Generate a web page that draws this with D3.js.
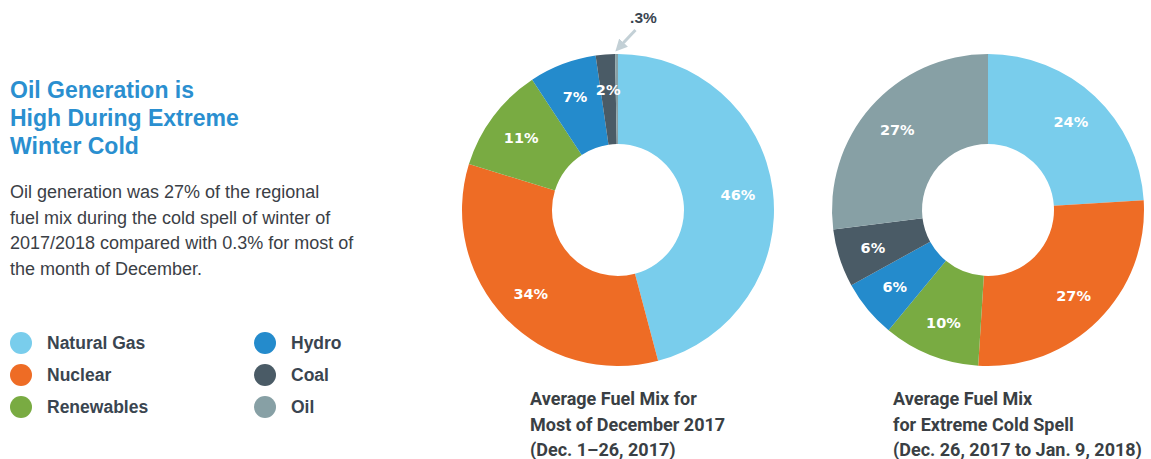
<!DOCTYPE html>
<html><head><meta charset="utf-8">
<script src="https://cdn.jsdelivr.net/npm/d3@7"></script>
<style>
body{margin:0;background:#fff;}
svg{display:block;}
</style></head>
<body>
<svg id="chart" width="1151" height="459"></svg>
<script>
const categories = ["Natural Gas","Nuclear","Renewables","Hydro","Coal","Oil"];
const colors = ["#79cdec","#ee6c25","#79ab42","#248bcc","#4a5b66","#87a0a5"];
const decValues = [46, 34, 11, 7, 2, 0.3];
const decLabels = ["46%","34%","11%","7%","2%",".3%"];
const coldValues = [24, 27, 10, 6, 6, 27];
const coldLabels = ["24%","27%","10%","6%","6%","27%"];
const titleLines = ["Oil Generation is","High During Extreme","Winter Cold"];
const bodyLines = ["Oil generation was 27% of the regional","fuel mix during the cold spell of winter of","2017/2018 compared with 0.3% for most of","the month of December."];
const decTitle = ["Average Fuel Mix for","Most of December 2017","(Dec. 1\u201326, 2017)"];
const coldTitle = ["Average Fuel Mix","for Extreme Cold Spell","(Dec. 26, 2017 to Jan. 9, 2018)"];

const svg = d3.select("#chart");
const font = "'Liberation Sans', Arial, sans-serif";
const wide = "'DejaVu Sans', sans-serif";

// Left heading
svg.append("g").selectAll("text").data(titleLines).join("text")
  .attr("x", 10).attr("y", (d,i)=>98 + i*28)
  .attr("font-family", font).attr("font-weight", 700).attr("font-size", 23)
  .attr("fill", "#2a8fd0").text(d=>d);

svg.append("g").selectAll("text").data(bodyLines).join("text")
  .attr("x", 10).attr("y", (d,i)=>198 + i*25.5)
  .attr("font-family", font).attr("font-size", 18)
  .attr("fill", "#3b4046").text(d=>d);

// Legend
const legend = svg.append("g");
const lg = legend.selectAll("g").data(categories).join("g")
  .attr("transform", (d,i)=>`translate(${i<3?21:265},${343 + (i%3)*32})`);
lg.append("circle").attr("r", 11).attr("fill", (d,i)=>colors[i]);
lg.append("text").attr("x", 26).attr("dy", "0.36em")
  .attr("font-family", font).attr("font-weight", 700).attr("font-size", 17.5)
  .attr("fill", "#3a4550").text(d=>d);

// Donuts
const pie = d3.pie().sort(null).value(d=>d);
function donut(cx, cy, values, labels, title, tx, showSmall){
  const g = svg.append("g").attr("transform", `translate(${cx},${cy})`);
  const outerR = 156, innerR = 66;
  const arc = d3.arc().innerRadius(innerR).outerRadius(outerR);
  const labelArc = d3.arc().innerRadius(121).outerRadius(121);
  const arcs = pie(values);
  g.selectAll("path").data(arcs).join("path")
    .attr("d", arc).attr("fill", (d,i)=>colors[i]);
  g.selectAll("text.lbl").data(arcs.filter(a=>a.data>=1)).join("text")
    .attr("class","lbl")
    .attr("transform", d=>`translate(${labelArc.centroid(d)})`)
    .attr("text-anchor","middle").attr("dy","0.36em")
    .attr("font-family", wide).attr("font-weight", 700).attr("font-size", 14.5)
    .attr("fill", "#fff").text(d=>labels[d.index]);
  if (showSmall){
    arcs.filter(a=>a.data<1).forEach(a=>{
      const ang = (a.startAngle + a.endAngle)/2;
      const tip = [ (outerR+9)*Math.sin(ang) + 5, -(outerR+9)*Math.cos(ang) ];
      const tail = [tip[0]+14, tip[1]-15];
      svg.append("defs").append("marker").attr("id","ah")
        .attr("viewBox","0 0 10 10").attr("refX",5).attr("refY",5)
        .attr("markerWidth",4).attr("markerHeight",4).attr("orient","auto")
        .append("path").attr("d","M0,0 L10,5 L0,10 z").attr("fill","#c3d0d6");
      g.append("line").attr("x1",tail[0]).attr("y1",tail[1])
        .attr("x2",tip[0]-2).attr("y2",tip[1]+2)
        .attr("stroke","#c3d0d6").attr("stroke-width",3)
        .attr("marker-end","url(#ah)");
      g.append("text").attr("x", tail[0]+8).attr("y", tail[1]-7)
        .attr("text-anchor","middle")
        .attr("font-family", font).attr("font-weight", 700).attr("font-size", 15.5)
        .attr("fill", "#3a4550").text(labels[a.index]);
    });
  }
  svg.append("g").selectAll("text").data(title).join("text")
    .attr("x", tx).attr("y", (d,i)=>405 + i*25.5)
    .attr("font-family", "Roboto, sans-serif").attr("font-weight", 700).attr("font-size", 18)
    .attr("fill", "#3a3f44").text(d=>d);
}
donut(618, 210, decValues, decLabels, decTitle, 530, true);
donut(988, 210, coldValues, coldLabels, coldTitle, 893, false);
</script>
</body></html>
